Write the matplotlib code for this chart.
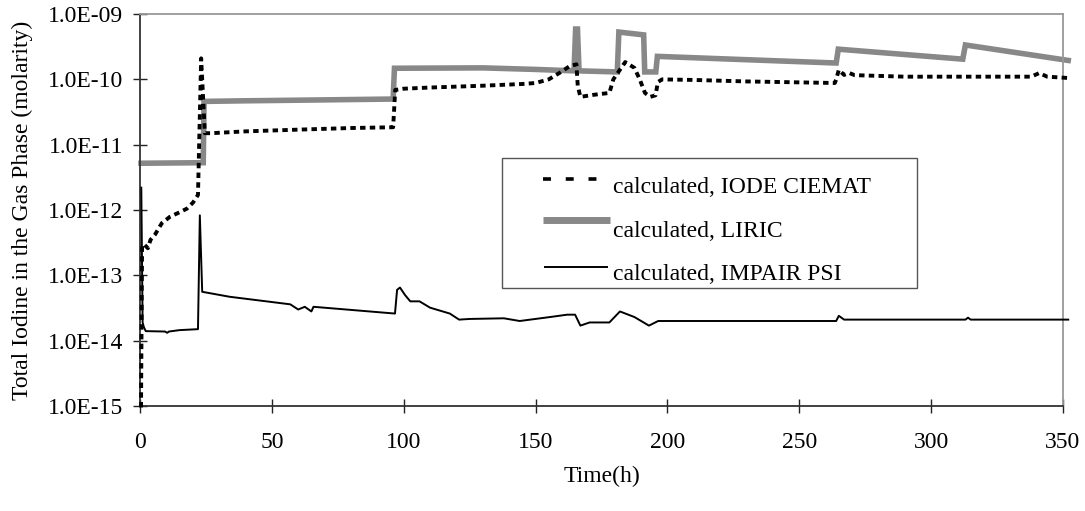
import matplotlib
matplotlib.use("Agg")
import matplotlib.pyplot as plt
from matplotlib.patches import Rectangle
from matplotlib.ticker import FixedLocator, FuncFormatter

plt.rcParams["font.family"] = ["Liberation Serif", "DejaVu Serif"]

# IODE CIEMAT (dashed black)
iode_t = [0.4, 0.8, 1.5, 3.0, 4.0, 5.7, 8.3, 11.4, 15.2, 17.8, 20.1, 22.0, 23.2, 24.6, 27,
          40, 60, 80, 96, 96.8, 100, 110, 130, 145, 150, 155, 159, 163, 165.5, 166, 167,
          172, 178, 179.5, 184, 187.5, 189.5, 191.5, 193.5, 195.5, 196.4, 198, 210, 230,
          250, 263.5, 264, 265, 267, 269, 271, 290, 320, 338, 341, 344, 352]
iode_c = [9.5e-16, 2.8e-13, 3.0e-13, 2.6e-13, 3.5e-13, 4.2e-13, 6.3e-13, 7.9e-13, 9.3e-13,
          1.05e-12, 1.3e-12, 1.7e-12, 2.1e-10, 1.5e-11, 1.5e-11,
          1.6e-11, 1.7e-11, 1.8e-11, 1.85e-11, 6.9e-11, 7.2e-11, 7.5e-11, 8.0e-11, 8.5e-11,
          8.8e-11, 1.0e-10, 1.25e-10, 1.6e-10, 1.7e-10, 8e-11, 5.4e-11,
          5.8e-11, 6.2e-11, 1.0e-10, 1.84e-10, 1.5e-10, 1.0e-10, 6.2e-11, 5.4e-11, 5.7e-11,
          9.1e-11, 1.0e-10, 9.8e-11, 9.3e-11,
          9.0e-11, 8.8e-11, 1.0e-10, 1.4e-10, 1.17e-10, 1.25e-10, 1.16e-10, 1.1e-10, 1.1e-10,
          1.1e-10, 1.25e-10, 1.1e-10, 1.05e-10]

# LIRIC (thick grey)
liric_t = [0.4, 24, 24.3, 40, 60, 96, 96.5, 130, 150, 164.6, 165.2, 165.9, 166.5, 181,
           181.6, 191.0, 191.4, 195.6, 196.2, 230, 264, 264.8, 312, 313, 352]
liric_c = [5.2e-12, 5.3e-12, 4.6e-11, 4.7e-11, 4.8e-11, 5.0e-11, 1.48e-10, 1.5e-10, 1.42e-10,
           1.35e-10, 5.9e-10, 5.9e-10, 1.35e-10, 1.3e-10,
           5.3e-10, 4.8e-10, 1.3e-10, 1.3e-10, 2.25e-10, 2.0e-10, 1.78e-10, 2.9e-10, 2.04e-10,
           3.36e-10, 1.95e-10]

# IMPAIR PSI (thin black)
impair_t = [0.5, 1.0, 1.5, 2.2, 9.5, 10.3, 11, 15, 22, 22.7, 23.6, 34, 57, 60, 62.5, 65,
            65.8, 96.7, 97.5, 98.6, 100.5, 102.5, 106, 110, 117.5, 121, 125, 138, 144,
            155.5, 162, 165, 167, 170.5, 178, 182, 187.5, 193, 196.5, 264, 265, 267, 313,
            314, 315, 352]
impair_c = [2.2e-12, 1.9e-14, 1.6e-14, 1.4e-14, 1.38e-14, 1.32e-14, 1.38e-14, 1.45e-14,
            1.5e-14, 8.3e-13, 5.6e-14, 4.7e-14, 3.6e-14, 3.0e-14, 3.3e-14, 2.8e-14,
            3.3e-14, 2.6e-14, 6.0e-14, 6.5e-14, 5.0e-14, 4.0e-14, 4.0e-14, 3.2e-14, 2.6e-14,
            2.1e-14, 2.15e-14, 2.2e-14, 2.0e-14,
            2.3e-14, 2.5e-14, 2.5e-14, 1.7e-14, 1.9e-14, 1.9e-14, 2.8e-14, 2.3e-14, 1.7e-14,
            2.0e-14, 2.0e-14, 2.4e-14, 2.1e-14, 2.1e-14,
            2.25e-14, 2.1e-14, 2.1e-14]

labels = ["calculated, IODE CIEMAT", "calculated, LIRIC", "calculated, IMPAIR PSI"]
x_ticks = [0, 50, 100, 150, 200, 250, 300, 350]
y_ticks = [1e-15, 1e-14, 1e-13, 1e-12, 1e-11, 1e-10, 1e-9]

fig = plt.figure(figsize=(10.85, 5.11), dpi=100)
ax = fig.add_axes([0.129, 0.2055, 0.8507, 0.767])

ax.plot(iode_t, iode_c, color="black", lw=2.8, linestyle=(0, (1.4, 1.1)),
        clip_on=False, zorder=3)
ax.plot(liric_t, liric_c, color="#888888", lw=4.0, solid_joinstyle="miter",
        clip_on=False, zorder=2)
ax.plot(impair_t, impair_c, color="black", lw=1.4, clip_on=False, zorder=4)

ax.set_yscale("log")
ax.set_xlim(0, 350)
ax.set_ylim(1e-15, 1e-9)
ax.xaxis.set_major_locator(FixedLocator(x_ticks))
ax.yaxis.set_major_locator(FixedLocator(y_ticks))
ax.yaxis.set_minor_locator(FixedLocator([]))
ax.yaxis.set_major_formatter(FuncFormatter(lambda v, p: "%.1E" % v))
ax.tick_params(direction="inout", length=10, width=1, labelsize=17, color="#222222")
ax.tick_params(axis="x", pad=14)
ax.tick_params(axis="y", pad=7)

for side in ["left", "bottom"]:
    ax.spines[side].set_color("#333333")
    ax.spines[side].set_linewidth(1.3)
for side in ["top", "right"]:
    ax.spines[side].set_color("#999999")
    ax.spines[side].set_linewidth(1.3)

ax.set_xlabel("Time(h)", fontsize=17, labelpad=9)
ax.set_ylabel("Total Iodine in the Gas Phase (molarity)", fontsize=17, labelpad=11)

# legend box drawn by hand (wide side padding as in the original)
tr = ax.transAxes
ax.add_patch(Rectangle((0.392, 0.301), 0.45, 0.332, transform=tr, fill=True,
                       facecolor="white", edgecolor="#555555", lw=1.0, zorder=5,
                       clip_on=False))
ax.plot([0.4366, 0.4962], [0.579, 0.579], transform=tr, zorder=6, clip_on=False,
        color="black", lw=2.6, linestyle=(0, (2.2, 4.1)), solid_capstyle="butt")
ax.plot([0.4366, 0.5092], [0.4745, 0.4745], transform=tr, zorder=6, clip_on=False,
        color="#888888", lw=5.0, solid_capstyle="butt")
ax.plot([0.4388, 0.506], [0.3546, 0.3546], transform=tr, zorder=6, clip_on=False,
        color="black", lw=1.4)
for yb, lab in zip([0.5434, 0.4311, 0.3214], labels):
    ax.text(0.5125, yb, lab, transform=tr, fontsize=17, va="baseline", ha="left",
            zorder=6)

fig.savefig("out.png", dpi=100)
